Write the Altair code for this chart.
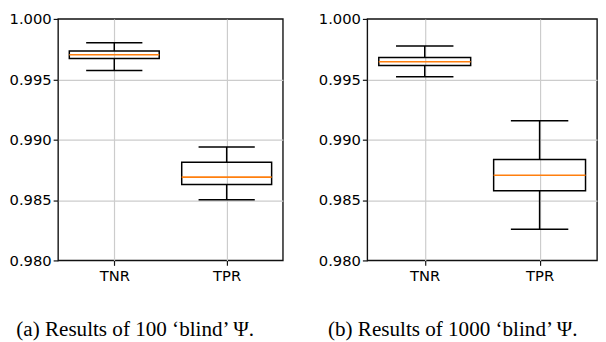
import altair as alt
import pandas as pd

categories = ["TNR", "TPR"]
positions = [1, 2]

# panel (a): 100 'blind' Psi
a_low = [0.99573, 0.98503]
a_q1 = [0.99672, 0.98628]
a_med = [0.99703, 0.98690]
a_q3 = [0.99734, 0.98813]
a_high = [0.99802, 0.98940]

# panel (b): 1000 'blind' Psi
b_low = [0.99521, 0.98258]
b_q1 = [0.99615, 0.98578]
b_med = [0.99646, 0.98706]
b_q3 = [0.99680, 0.98836]
b_high = [0.99776, 0.99156]

y_ticks = [0.980, 0.985, 0.990, 0.995, 1.000]
captions = ["(a) Results of 100 \u2018blind\u2019 \u03a8.", "(b) Results of 1000 \u2018blind\u2019 \u03a8."]

BOX_HALF = 0.4
CAP_HALF = 0.25
GRID = "#cccccc"
INK = "#111111"

label_expr = "[" + ",".join("'%s'" % c for c in categories) + "][datum.value - 1]"


def panel(low, q1, med, q3, high, caption, width, dx):
    df = pd.DataFrame({"cat": categories, "pos": positions, "low": low, "q1": q1,
                       "med": med, "q3": q3, "high": high})
    df["bx0"] = df["pos"] - BOX_HALF
    df["bx1"] = df["pos"] + BOX_HALF
    df["cx0"] = df["pos"] - CAP_HALF
    df["cx1"] = df["pos"] + CAP_HALF

    xs = alt.Scale(domain=[0.5, 2.5], nice=False, zero=False)
    ys = alt.Scale(domain=[0.98, 1.0], nice=False, zero=False)
    x_axis = alt.Axis(values=positions, labelExpr=label_expr, title=None, grid=True,
                      gridColor=GRID, gridWidth=1.2, domain=False, tickSize=5,
                      tickColor=INK, tickWidth=1.2, labelPadding=3,
                      labelFont="DejaVu Sans", labelFontSize=15, labelColor="black")
    y_axis = alt.Axis(values=y_ticks, format=".3f", title=None, grid=True,
                      gridColor=alt.condition("datum.value <= 0.9801 || datum.value >= 0.9999",
                                              alt.value("transparent"), alt.value(GRID)),
                      gridWidth=1.2, domain=False, tickSize=5, tickColor=INK,
                      tickWidth=1.2, labelPadding=2, labelFont="DejaVu Sans",
                      labelFontSize=15, labelColor="black")

    def X(f):
        return alt.X(f, type="quantitative", scale=xs, axis=x_axis)

    def Y(f):
        return alt.Y(f, type="quantitative", scale=ys, axis=y_axis)

    base = alt.Chart(df)
    whisk_hi = base.mark_rule(color="black", strokeWidth=1.5).encode(x=X("pos"), y=Y("q3"), y2="high")
    whisk_lo = base.mark_rule(color="black", strokeWidth=1.5).encode(x=X("pos"), y=Y("low"), y2="q1")
    box = base.mark_rect(fillOpacity=0, stroke="black", strokeWidth=1.5).encode(
        x=X("bx0"), x2="bx1", y=Y("q1"), y2="q3")
    cap_hi = base.mark_rule(color="black", strokeWidth=1.5).encode(x=X("cx0"), x2="cx1", y=Y("high"))
    cap_lo = base.mark_rule(color="black", strokeWidth=1.5).encode(x=X("cx0"), x2="cx1", y=Y("low"))
    median = base.mark_rule(color="#ff7f0e", strokeWidth=1.6).encode(x=X("bx0"), x2="bx1", y=Y("med"))

    return alt.layer(whisk_hi, whisk_lo, box, cap_hi, cap_lo, median).properties(
        width=width, height=246,
        title=alt.TitleParams(text=caption, orient="bottom", anchor="middle", frame="bounds",
                              font="Liberation Serif", fontSize=21.5, fontWeight="normal",
                              color="black", offset=37, dx=dx),
    )


left = panel(a_low, a_q1, a_med, a_q3, a_high, captions[0], 229, -11)
right = panel(b_low, b_q1, b_med, b_q3, b_high, captions[1], 234, -5)

chart = alt.hconcat(left, right, spacing=34).properties(
    padding={"left": 0, "top": 0, "right": 0, "bottom": 0},
    background="white",
).configure_view(stroke=INK, strokeWidth=1.4)

chart.save("out.html", embed_options={"renderer": "svg", "actions": False})
